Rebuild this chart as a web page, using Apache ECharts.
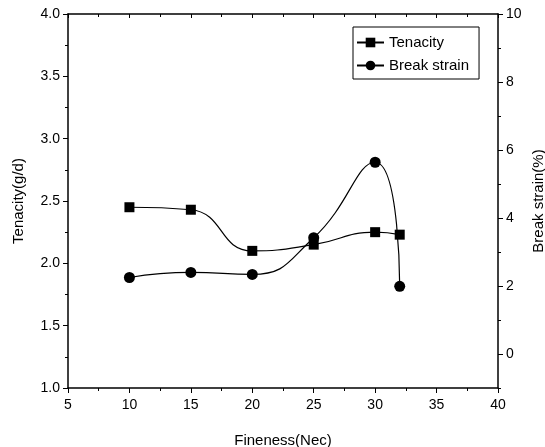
<!DOCTYPE html>
<html>
	<head>
		<meta charset="utf-8">
		<title>Tenacity / Break strain</title>
		<script src="https://cdn.jsdelivr.net/npm/echarts@6/dist/echarts.min.js"></script>
	</head>
	<style type="text/css">
		body { margin: 0; background: #fff; }
	</style>
	<body>
		<div id="main" style="width: 545px;height:447px;"></div>

		<script type="text/javascript">
			// data
			var fineness = [10, 15, 20, 25, 30, 32];
			var tenacity = [2.45, 2.43, 2.10, 2.15, 2.25, 2.23];
			var breakStrain = [2.25, 2.40, 2.34, 3.42, 5.64, 1.99];
			var rightLabels = [0, 2, 4, 6, 8, 10];

			function pairs(xs, ys) {
				var out = [];
				for (var i = 0; i < xs.length; i++) {
					out.push([xs[i], ys[i]]);
				}
				return out;
			}

			var font = 'Arial, "Liberation Sans", sans-serif';
			var black = '#000';

			var myChart = echarts.init(document.getElementById('main'));
			myChart.setOption({
				animation: false,
				textStyle: { fontFamily: font, color: black },
				grid: { left: 68, right: 47, top: 14, bottom: 59, containLabel: false, outerBoundsMode: 'none' },
				legend: {
					orient: 'vertical',
					left: 353,
					top: 27,
					padding: [8, 10, 6, 3],
					itemGap: 8,
					itemWidth: 27,
					itemHeight: 12,
					borderColor: black,
					borderWidth: 1,
					textStyle: { fontFamily: font, fontSize: 15, color: black },
					data: ['Tenacity', 'Break strain']
				},
				xAxis: [{
					type: 'value',
					min: 5,
					max: 40,
					interval: 5,
					name: 'Fineness(Nec)',
					nameLocation: 'middle',
					nameGap: 45,
					nameTextStyle: { fontSize: 15, color: black },
					axisLine: { onZero: false, lineStyle: { color: black, width: 1.5 } },
					axisTick: { length: 5, lineStyle: { color: black } },
					minorTick: { show: true, splitNumber: 2, length: 3, lineStyle: { color: black } },
					axisLabel: { fontSize: 14, color: black, margin: 10 },
					splitLine: { show: false }
				}, {
					type: 'value',
					position: 'top',
					min: 5,
					max: 40,
					interval: 5,
					axisLine: { onZero: false, lineStyle: { color: black, width: 1.5 } },
					axisTick: { inside: true, length: 4, lineStyle: { color: black } },
					minorTick: { show: true, splitNumber: 2, length: 3, lineStyle: { color: black } },
					axisLabel: { show: false },
					splitLine: { show: false }
				}],
				yAxis: [{
					type: 'value',
					min: 1,
					max: 4,
					interval: 0.5,
					name: 'Tenacity(g/d)',
					nameLocation: 'middle',
					nameGap: 42,
					nameTextStyle: { fontSize: 15, color: black },
					axisLine: { show: true, onZero: false, lineStyle: { color: black, width: 1.5 } },
					axisTick: { show: true, length: 5, lineStyle: { color: black } },
					minorTick: { show: true, splitNumber: 2, length: 3, lineStyle: { color: black } },
					axisLabel: {
						fontSize: 14,
						color: black,
						margin: 8,
						formatter: function (v) { return v.toFixed(1); }
					},
					splitLine: { show: false }
				}, {
					type: 'value',
					position: 'right',
					min: -1,
					max: 10,
					interval: 1,
					name: 'Break strain(%)',
					nameLocation: 'middle',
					nameGap: 33,
					nameMoveOverlap: false,
					nameRotate: 90,
					nameTextStyle: { fontSize: 15, color: black },
					axisLine: { show: true, onZero: false, lineStyle: { color: black, width: 1.5 } },
					axisTick: { show: true, length: 3, lineStyle: { color: black } },
					axisLabel: {
						fontSize: 14,
						color: black,
						margin: 8,
						formatter: function (v) {
							return rightLabels.indexOf(v) >= 0 ? String(v) : '';
						}
					},
					splitLine: { show: false }
				}, {
					// longer ticks on the labelled values of the right axis
					type: 'value',
					position: 'right',
					min: -1,
					max: 10,
					axisLine: { show: false, onZero: false },
					axisTick: { show: true, length: 5, customValues: rightLabels, lineStyle: { color: black } },
					axisLabel: { show: false },
					splitLine: { show: false }
				}],
				series: [{
					name: 'Tenacity',
					type: 'line',
					smooth: 0.5,
					yAxisIndex: 0,
					symbol: 'rect',
					symbolSize: 10,
					itemStyle: { color: black },
					lineStyle: { color: black, width: 1.2 },
					data: pairs(fineness, tenacity)
				}, {
					name: 'Break strain',
					type: 'line',
					smooth: 0.5,
					yAxisIndex: 1,
					symbol: 'circle',
					symbolSize: 11,
					itemStyle: { color: black },
					lineStyle: { color: black, width: 1.2 },
					data: pairs(fineness, breakStrain)
				}]
			});
		</script>
	</body>
</html>
